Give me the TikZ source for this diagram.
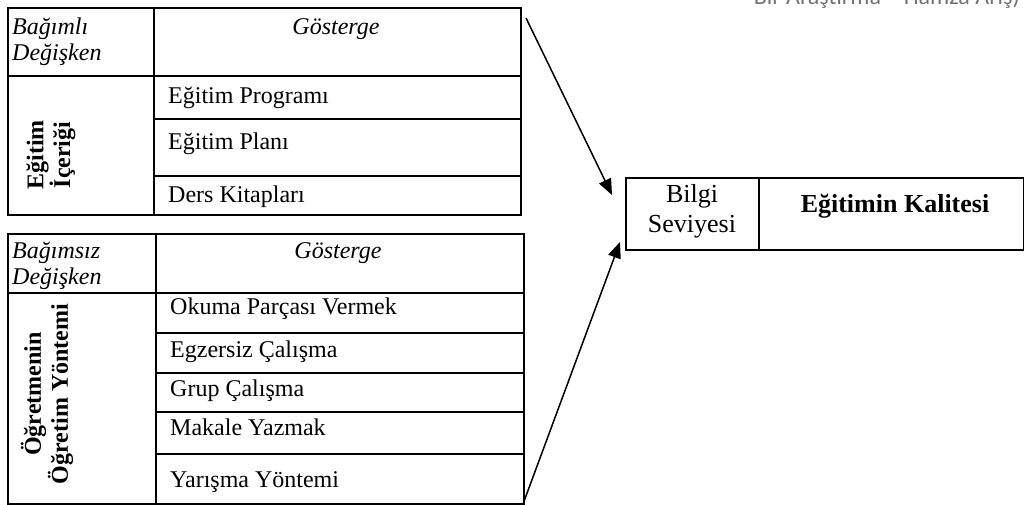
\documentclass[tikz,border=0pt]{standalone}
\usepackage{fontspec}
\setmainfont{Liberation Serif}
\newfontfamily\hdrfont{Carlito}
\usetikzlibrary{arrows.meta}
\begin{document}
\begin{tikzpicture}[x=1pt,y=-1pt,
  frame/.style={draw, line width=1.9pt, inner sep=0pt, anchor=north west},
  rule/.style={line width=1.9pt},
  txt/.style={font=\fontsize{24}{27}\selectfont, inner sep=0pt, anchor=base west},
  itxt/.style={font=\fontsize{24}{27}\selectfont\itshape, inner sep=0pt, anchor=base west},
  ctitle/.style={font=\fontsize{24}{27}\selectfont\itshape, inner sep=0pt, anchor=base},
  vtxt/.style={inner sep=0pt, rotate=90, align=center},
  conn/.style={line width=1.5pt, -{Triangle[length=16pt,width=13pt]}}]
\useasboundingbox (0,0) rectangle (1024,504);
\clip (0,0) rectangle (1024,504);
% cut-off running title
\node[font=\hdrfont\fontsize{24}{27}\selectfont, text=black!55, inner sep=0pt, anchor=base east] (runhead) at (1020,4) {Bir Araştırma – Hamza Arış)};
% ---------- top table ----------
\node[frame, minimum width=513pt, minimum height=207pt] (tabA) at (7,7) {};
\draw[rule] (154,7) -- (154,214);
\draw[rule] (7,76) -- (520,76);
\draw[rule] (154,119) -- (520,119);
\draw[rule] (154,176) -- (520,176);
\node[itxt] (a11) at (12,34) {Bağımlı};
\node[itxt] (a12) at (12,60) {Değişken};
\node[ctitle] (a2) at (336,34) {Gösterge};
\node[txt] (a3) at (168,103) {Eğitim Programı};
\node[txt] (a4) at (168,149) {Eğitim Planı};
\node[txt] (a5) at (168,202) {Ders Kitapları};
\node[vtxt, font=\fontsize{24}{22}\selectfont\bfseries] (a6) at (51,155) {Eğitim\\İçeriği};
% ---------- bottom table ----------
\node[frame, minimum width=516pt, minimum height=270pt] (tabB) at (7,233) {};
\draw[rule] (156,233) -- (156,503);
\draw[rule] (7,293) -- (523,293);
\draw[rule] (156,333) -- (523,333);
\draw[rule] (156,373) -- (523,373);
\draw[rule] (156,412) -- (523,412);
\draw[rule] (156,454) -- (523,454);
\node[itxt] (b11) at (12,258) {Bağımsız};
\node[itxt] (b12) at (12,284) {Değişken};
\node[ctitle] (b2) at (338,258) {Gösterge};
\node[txt] (b3) at (170,314) {Okuma Parçası Vermek};
\node[txt] (b4) at (170,357) {Egzersiz Çalışma};
\node[txt] (b5) at (170,396) {Grup Çalışma};
\node[txt] (b6) at (170,435) {Makale Yazmak};
\node[txt] (b7) at (170,487) {Yarışma Yöntemi};
\node[vtxt, font=\fontsize{24}{27}\selectfont\bfseries] (b8) at (47,394) {Öğretmenin\\Öğretim Yöntemi};
% ---------- result box ----------
\node[frame, minimum width=398pt, minimum height=72pt] (res) at (625,177) {};
\draw[rule] (759,177) -- (759,249);
\node[font=\fontsize{26}{30}\selectfont, align=center, inner sep=0pt, anchor=base] (r1) at (692,232) {Bilgi\\Seviyesi};
\node[font=\fontsize{26}{30}\selectfont\bfseries, inner sep=0pt, anchor=base] (r2) at (895,212) {Eğitimin Kalitesi};
% ---------- connectors ----------
\coordinate (s1) at (526,18);
\coordinate (e1) at (612,195);
\coordinate (s2) at (523,504);
\coordinate (e2) at (620,242);
\draw[conn] (s1) -- (e1);
\draw[conn] (s2) -- (e2);
\end{tikzpicture}
\end{document}
